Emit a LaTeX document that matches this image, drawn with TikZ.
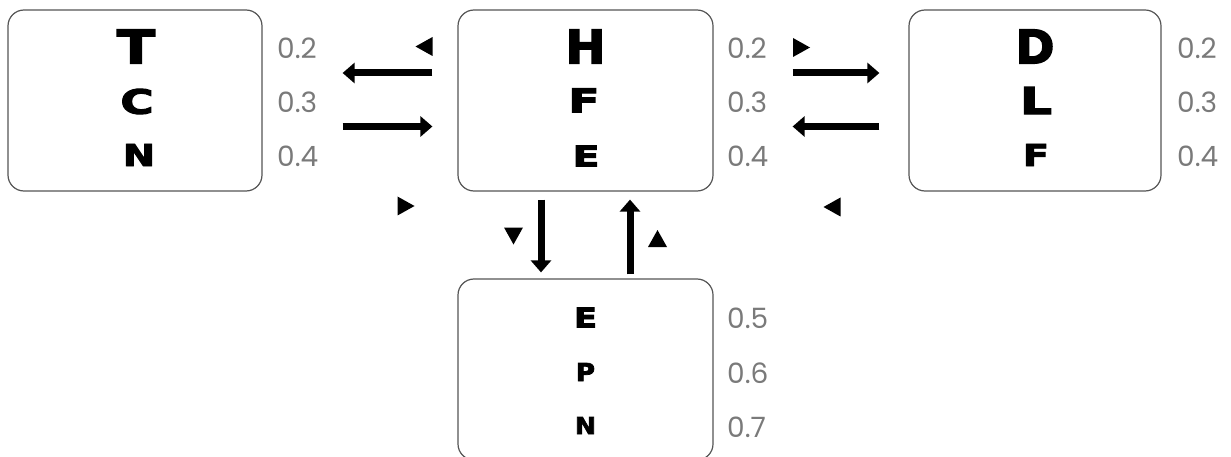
\documentclass[tikz,border=0pt]{standalone}
\usepackage{fontspec}
\usepackage{graphicx}
\usetikzlibrary{arrows.meta}
\newfontfamily\letfont{DejaVu Sans}[BoldFeatures={FakeBold=3}]
\newfontfamily\numfont{Poppins}
\definecolor{boxgray}{HTML}{555555}
\definecolor{numgray}{HTML}{7A7A7A}
\newcommand{\ltr}[3]{\resizebox{#1pt}{#2pt}{\letfont\bfseries #3}}
\tikzset{
  box/.style={draw=boxgray, line width=1.2pt, rounded corners=16pt,
    minimum width=254pt, minimum height=181pt, inner sep=0pt},
  lt/.style={inner sep=0pt},
  num/.style={anchor=west, inner sep=0pt, text=numgray,
    font=\numfont\fontsize{28}{28}\selectfont},
  conn/.style={line width=7pt, -{Triangle[length=12pt,width=20pt]}},
  triL/.pic={\fill (-8.5,0) -- (8.5,-9.5) -- (8.5,9.5) -- cycle;},
  triR/.pic={\fill (8.5,0) -- (-8.5,-9.5) -- (-8.5,9.5) -- cycle;},
  triD/.pic={\fill (0,8.5) -- (-9.5,-8.5) -- (9.5,-8.5) -- cycle;},
  triU/.pic={\fill (0,-8.5) -- (-9.5,8.5) -- (9.5,8.5) -- cycle;},
}
\begin{document}
\begin{tikzpicture}[x=1pt, y=-1pt]
\clip (0,0) rectangle (1231,457);
% boxes
\node[box] (T) at (135,100.5) {};
\node[box, minimum width=255pt] (H) at (585.5,100.5) {};
\node[box, minimum width=252pt] (D) at (1035,100.5) {};
\node[box, minimum width=255pt] (B) at (585.5,369.5) {};
% letters
\node[lt] (t1) at (136,46.5) {\ltr{38}{34}{T}};
\node[lt] (t2) at (137,101.5) {\ltr{33}{25}{C}};
\node[lt] (t3) at (139,155) {\ltr{32}{22}{N}};
\node[lt] (h1) at (585.5,46.5) {\ltr{40}{34}{H}};
\node[lt] (h2) at (584,100.5) {\ltr{31}{24}{F}};
\node[lt] (h3) at (586,156) {\ltr{27}{21}{E}};
\node[lt] (d1) at (1035,46.5) {\ltr{39}{34}{D}};
\node[lt] (d2) at (1036,100.5) {\ltr{32}{27}{L}};
\node[lt] (d3) at (1036,155) {\ltr{26}{22}{F}};
\node[lt] (b1) at (585.5,317.5) {\ltr{23}{20}{E}};
\node[lt] (b2) at (585.5,372) {\ltr{19}{18}{P}};
\node[lt] (b3) at (585.5,425.5) {\ltr{21}{17}{N}};
% numbers
\node[num] (tn1) at (277,48.5) {0.2};
\node[num] (tn2) at (277,102) {0.3};
\node[num] (tn3) at (277,156.5) {0.4};
\node[num] (hn1) at (727,48.5) {0.2};
\node[num] (hn2) at (727,102) {0.3};
\node[num] (hn3) at (727,156.5) {0.4};
\node[num] (dn1) at (1177,48.5) {0.2};
\node[num] (dn2) at (1177,102) {0.3};
\node[num] (dn3) at (1177,156.5) {0.4};
\node[num] (bn1) at (727,318) {0.5};
\node[num] (bn2) at (727,373) {0.6};
\node[num] (bn3) at (727,427) {0.7};
% connectors
\draw[conn, shorten <=25pt, shorten >=80pt] ([yshift=27.5pt]H.west) -- ([yshift=27.5pt]T.east);
\draw[conn, shorten <=80pt, shorten >=25pt] ([yshift=-26pt]T.east) -- ([yshift=-26pt]H.west);
\draw[conn, shorten <=79pt, shorten >=29pt] ([yshift=27.5pt]H.east) -- ([yshift=27.5pt]D.west);
\draw[conn, shorten <=29pt, shorten >=79pt] ([yshift=-26pt]D.west) -- ([yshift=-26pt]H.east);
\draw[conn, shorten <=8pt, shorten >=6pt] ([xshift=-44.5pt]H.south) -- ([xshift=-44.5pt]B.north);
\draw[conn, shorten <=4pt, shorten >=8pt] ([xshift=44.5pt]B.north) -- ([xshift=44.5pt]H.south);
% small triangles
\pic at (424,46.5) {triL};
\pic at (406,206) {triR};
\pic at (801.5,47.5) {triR};
\pic at (832,207) {triL};
\pic at (513.5,236) {triD};
\pic at (657.5,238.5) {triU};
\end{tikzpicture}
\end{document}
